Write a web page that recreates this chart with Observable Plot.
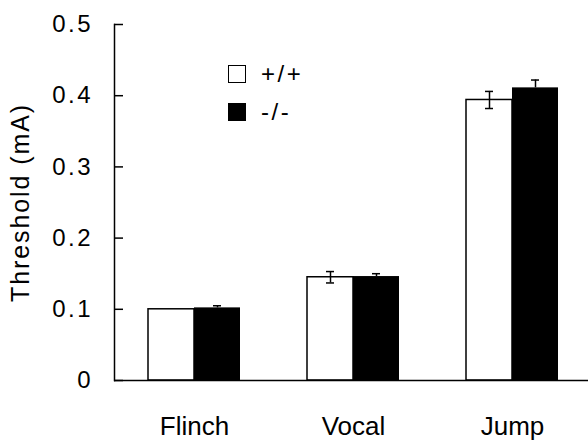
<!DOCTYPE html>
<html>
<head>
<meta charset="utf-8">
<script src="https://cdn.jsdelivr.net/npm/d3@7"></script>
<script src="https://cdn.jsdelivr.net/npm/@observablehq/plot@0.6"></script>
<style>
  html, body { margin: 0; padding: 0; background: #fff; }
  #wrap { position: relative; width: 588px; height: 440px; font-family: "Liberation Sans", Arial, sans-serif; }
  #wrap svg g[aria-label="y-axis tick label"] text { letter-spacing: 2.5px; }
  #wrap svg g[aria-label="text"] text { letter-spacing: 1.9px; }
  .legend { position: absolute; left: 228px; top: 65px; }
  .legend .row { display: flex; align-items: center; height: 18px; margin-bottom: 20px; }
  .legend .sw { width: 16px; height: 16px; border: 1.5px solid #000; box-sizing: content-box; margin-right: 15px; }
  .legend .lab { font-size: 24px; letter-spacing: 2.5px; color: #000; }
</style>
</head>
<body>
<div id="wrap"></div>
<script>
const categories = ["Flinch", "Vocal", "Jump"];
const genotypes = ["+/+", "-/-"];
const wtValues = [0.100, 0.145, 0.394];
const wtErrors = [0.000, 0.008, 0.012];
const koValues = [0.102, 0.146, 0.411];
const koErrors = [0.003, 0.004, 0.011];
const yTicks = [0, 0.1, 0.2, 0.3, 0.4, 0.5];
const yTickLabels = ["0", "0.1", "0.2", "0.3", "0.4", "0.5"];
const yLabel = "Threshold (mA)";

const wt = categories.map((c, i) => ({cat: c, value: wtValues[i], err: wtErrors[i]}));
const ko = categories.map((c, i) => ({cat: c, value: koValues[i], err: koErrors[i]}));
const wtE = wt.filter(d => d.err > 0);
const koE = ko.filter(d => d.err > 0);

const half = 46;
const capL = 19, capR = 65;

const chart = Plot.plot({
  width: 588,
  height: 440,
  marginLeft: 114,
  marginRight: -4,
  marginTop: 24,
  marginBottom: 60,
  style: {fontFamily: '"Liberation Sans", Arial, sans-serif', background: "white", color: "black"},
  x: {domain: categories, paddingInner: 0.4226, paddingOuter: 0.2113, axis: null},
  y: {domain: [0, 0.5], axis: null},
  marks: [
    Plot.barY(wt, {x: "cat", y: "value", fill: "white", stroke: "black", strokeWidth: 1.5, insetRight: half}),
    Plot.ruleX(wtE, {x: "cat", y1: d => d.value - d.err, y2: d => d.value + d.err, dx: -half / 2, stroke: "black", strokeWidth: 1.5}),
    Plot.tickY(wtE, {x: "cat", y: d => d.value + d.err, insetLeft: capL, insetRight: capR, stroke: "black", strokeWidth: 1.5}),
    Plot.tickY(wtE, {x: "cat", y: d => d.value - d.err, insetLeft: capL, insetRight: capR, stroke: "black", strokeWidth: 1.5}),
    Plot.ruleX(koE, {x: "cat", y1: d => d.value, y2: d => d.value + d.err, dx: half / 2, stroke: "black", strokeWidth: 1.5}),
    Plot.tickY(koE, {x: "cat", y: d => d.value + d.err, insetLeft: capR, insetRight: capL, stroke: "black", strokeWidth: 1.5}),
    Plot.barY(ko, {x: "cat", y: "value", fill: "black", insetLeft: half}),
    Plot.ruleY([0], {stroke: "black", strokeWidth: 1.5}),
    Plot.frame({anchor: "left", stroke: "black", strokeWidth: 1.5}),
    Plot.axisY({ticks: yTicks, tickSize: -9, tickFormat: () => "", stroke: "black", strokeWidth: 1.5, label: null}),
    Plot.axisY({ticks: yTicks, tickSize: 0, tickPadding: 21.5, tickFormat: (d, i) => yTickLabels[i], fontSize: 24, label: null}),
    Plot.axisX({tickSize: 0, tickPadding: 36, fontSize: 26, label: null}),
    Plot.text([yLabel], {frameAnchor: "left", textAnchor: "middle", dx: -94, rotate: -90, fontSize: 25, fill: "black"})
  ]
});

const wrap = document.getElementById("wrap");
wrap.appendChild(chart);

const legend = document.createElement("div");
legend.className = "legend";
const fills = ["white", "black"];
genotypes.forEach((g, i) => {
  const row = document.createElement("div");
  row.className = "row";
  const sw = document.createElement("div");
  sw.className = "sw";
  sw.style.background = fills[i];
  const lab = document.createElement("span");
  lab.className = "lab";
  lab.textContent = g;
  row.appendChild(sw);
  row.appendChild(lab);
  legend.appendChild(row);
});
wrap.appendChild(legend);
</script>
</body>
</html>
